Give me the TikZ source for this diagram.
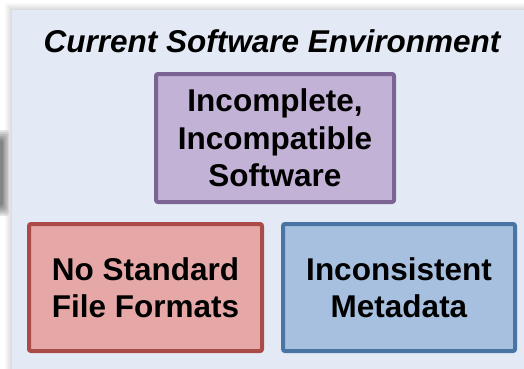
\documentclass[tikz,border=0pt]{standalone}
\usepackage{fontspec}
\setmainfont{Liberation Sans}
\definecolor{panelbg}{HTML}{E3EAF5}
\definecolor{softedge}{HTML}{7B6393}
\definecolor{softfill}{HTML}{C2B2D6}
\definecolor{fmtedge}{HTML}{AA4B47}
\definecolor{fmtfill}{HTML}{E5A8A7}
\definecolor{metaedge}{HTML}{4A74A4}
\definecolor{metafill}{HTML}{A7C0DF}
\begin{document}
\begin{tikzpicture}[x=1pt,y=1pt,
  issue/.style={draw,line width=4pt,rounded corners=2pt,align=center,inner sep=0pt,
    font=\fontsize{31.5}{37.5}\selectfont\bfseries},
  lowbox/.style={issue,minimum width=233pt,minimum height=127pt}]
\useasboundingbox (0,0) rectangle (524,368);
\clip (0,0) rectangle (524,368);
\fill[white] (0,0) rectangle (524,368);
\foreach \d in {1,...,7}
  \fill[black,opacity=.02] (12-\d,-10) rectangle (540,358+\d);
\foreach \d in {0,...,5}
  \fill[black,opacity=.1,rounded corners=3pt] (-5,152+\d*2) rectangle (9-\d*1.2,238-\d*2);
\fill[panelbg] (12,-10) rectangle (540,358);
\node[anchor=base,font=\fontsize{31.5}{37.5}\selectfont\bfseries\itshape] (title) at (272,316) {Current Software Environment};
\node[issue,draw=softedge,fill=softfill,minimum width=238pt,minimum height=128pt] (soft) at (275,230) {Incomplete,\\Incompatible\\Software};
\node[lowbox,draw=fmtedge,fill=fmtfill] (fmt) at (145.5,80.5) {No Standard\\File Formats};
\node[lowbox,draw=metaedge,fill=metafill,minimum width=232pt] (meta) at (399,80.5) {Inconsistent\\Metadata};
\end{tikzpicture}
\end{document}
